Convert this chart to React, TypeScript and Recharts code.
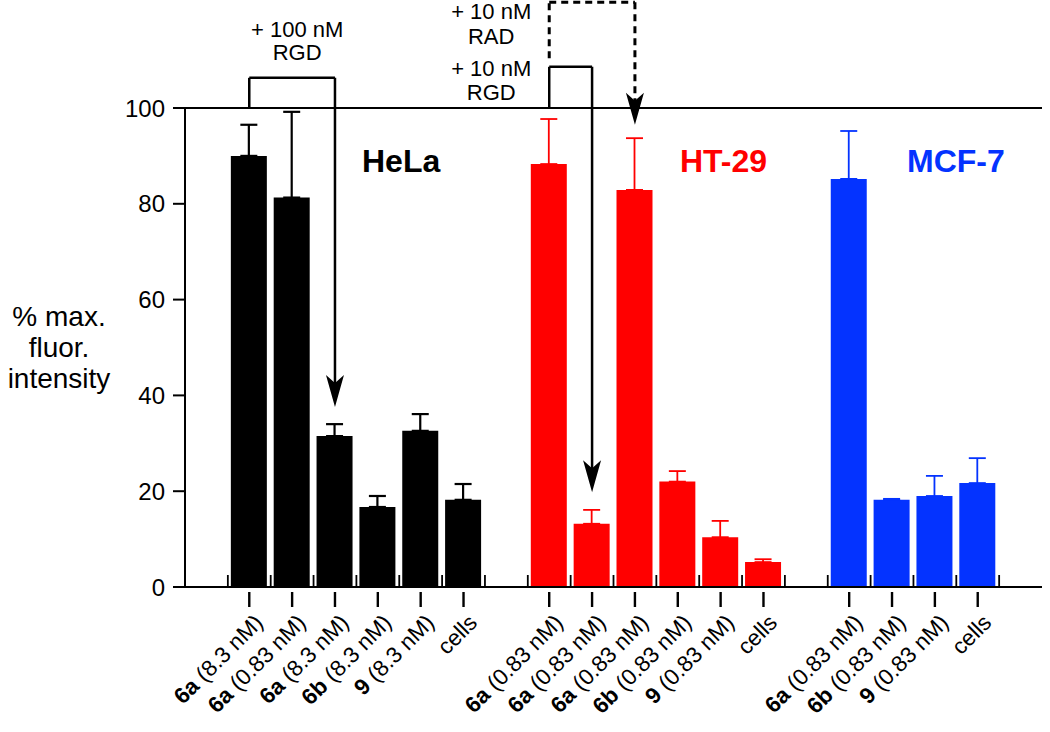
import React from 'react';
import { BarChart, Bar, XAxis, YAxis, Cell, ErrorBar, ReferenceLine, ReferenceDot, Label } from 'recharts';

// one slot per category; s* are the empty spacer slots between cell lines
const categoryIds = ['s0', 'h1', 'h2', 'h3', 'h4', 'h5', 'h6', 's1', 't1', 't2', 't3', 't4', 't5', 't6', 's2', 'm1', 'm2', 'm3', 'm4', 's3'];
const boldParts = ['', '6a', '6a', '6a', '6b', '9', '', '', '6a', '6a', '6a', '6b', '9', '', '', '6a', '6b', '9', '', ''];
const plainParts = [
  '', ' (8.3 nM)', ' (0.83 nM)', ' (8.3 nM)', ' (8.3 nM)', ' (8.3 nM)', 'cells', '',
  ' (0.83 nM)', ' (0.83 nM)', ' (0.83 nM)', ' (0.83 nM)', ' (0.83 nM)', 'cells', '',
  ' (0.83 nM)', ' (0.83 nM)', ' (0.83 nM)', 'cells', '',
];
const cellLines = ['', 'HeLa', 'HeLa', 'HeLa', 'HeLa', 'HeLa', 'HeLa', '', 'HT-29', 'HT-29', 'HT-29', 'HT-29', 'HT-29', 'HT-29', '', 'MCF-7', 'MCF-7', 'MCF-7', 'MCF-7', ''];
const intensity = [null, 90, 81.3, 31.5, 16.7, 32.6, 18.2, null, 88.3, 13.2, 82.9, 22, 10.4, 5.2, null, 85.2, 18.2, 19, 21.7, null];
const errorUp = [null, 6.5, 17.9, 2.5, 2.3, 3.5, 3.3, null, 9.4, 2.9, 10.8, 2.2, 3.4, 0.6, null, 10, 0.2, 4.2, 5.2, null];
const yTicks = [0, 20, 40, 60, 80, 100];

const lineColors: Record<string, string> = { HeLa: '#000000', 'HT-29': '#ff0000', 'MCF-7': '#0433ff' };

const rows = categoryIds.map((id, i) => {
  const line = cellLines[i];
  const err = errorUp[i] == null ? undefined : [0, errorUp[i]];
  return {
    id,
    value: intensity[i],
    errH: line === 'HeLa' ? err : undefined,
    errT: line === 'HT-29' ? err : undefined,
    errM: line === 'MCF-7' ? err : undefined,
  };
});

const FONT = 'Liberation Sans, Arial, Helvetica, sans-serif';
const PLOT_W = 1042 - 185;
const SLOT = PLOT_W / categoryIds.length;

function CategoryTick(props: any) {
  const { x, y, payload } = props;
  const i = categoryIds.indexOf(payload.value);
  const bold = boldParts[i];
  const plain = plainParts[i];
  const hasLabel = bold !== '' || plain !== '';
  return (
    <g>
      <line x1={x - SLOT / 2} x2={x - SLOT / 2} y1={y - 12} y2={y} stroke="#000" strokeWidth={1.8} />
      {hasLabel && <line x1={x} x2={x} y1={y + 5} y2={y + 20} stroke="#000" strokeWidth={2.4} />}
      {hasLabel && (
        <text
          transform={`translate(${x + 15},${y + 37}) rotate(-45)`}
          textAnchor="end"
          fontSize={22.5}
          fontFamily={FONT}
          fill="#000"
        >
          {bold && <tspan fontWeight="bold">{bold}</tspan>}
          {plain}
        </text>
      )}
    </g>
  );
}

const YTitle = () => (
  <text textAnchor="middle" fontSize={28} fontFamily={FONT} fill="#000">
    <tspan x={59} y={326}>% max.</tspan>
    <tspan x={59} y={357}>fluor.</tspan>
    <tspan x={59} y={388}>intensity</tspan>
  </text>
);

const ArrowHead = (p: any) => (
  <path d={`M${p.cx},${p.cy} L${p.cx - 9},${p.cy - 32} L${p.cx},${p.cy - 24} L${p.cx + 9},${p.cy - 32} Z`} fill="#000" />
);

const textShape = (lines: string[], dx: number, gap: number, opts: any = {}) => (p: any) => (
  <text
    textAnchor={opts.anchor || 'middle'}
    fontSize={opts.size || 22}
    fontWeight={opts.weight || 'normal'}
    fontFamily={FONT}
    fill={opts.color || '#000'}
  >
    {lines.map((t, k) => (
      <tspan key={k} x={p.cx + dx} y={p.cy + k * gap}>{t}</tspan>
    ))}
  </text>
);

const bracket = { stroke: '#000', strokeWidth: 2.5, ifOverflow: 'visible' as const };
const dashed = { stroke: '#000', strokeWidth: 3, strokeDasharray: '7 5', ifOverflow: 'visible' as const };

export default function App() {
  return (
    <div style={{ width: 1050, height: 732, background: '#fff' }}>
      <style>{'body{margin:0}'}</style>
      <BarChart width={1050} height={732} data={rows} margin={{ top: 108, right: 8, bottom: 15, left: 115 }}>
        <XAxis
          dataKey="id"
          height={130}
          interval={0}
          tickSize={0}
          tickMargin={0}
          tickLine={false}
          tick={<CategoryTick />}
          axisLine={{ stroke: '#000', strokeWidth: 2 }}
        />
        <YAxis
          width={70}
          domain={[0, 100]}
          ticks={yTicks}
          allowDataOverflow
          tickSize={12}
          tickMargin={8}
          tick={{ fontSize: 24, fontFamily: FONT, fill: '#000' }}
          tickLine={{ stroke: '#000', strokeWidth: 2 }}
          axisLine={{ stroke: '#000', strokeWidth: 2 }}
        >
          <Label content={YTitle} />
        </YAxis>
        <YAxis yAxisId="right" orientation="right" width={0} domain={[0, 100]} tick={false} tickLine={false} axisLine={{ stroke: '#000', strokeWidth: 2 }} />
        <ReferenceLine y={100} stroke="#000" strokeWidth={2} />
        <Bar dataKey="value" barSize={36} isAnimationActive={false}>
          {rows.map((r, i) => (
            <Cell key={r.id} fill={lineColors[cellLines[i]] || '#000'} />
          ))}
          <ErrorBar dataKey="errH" width={8.5} stroke="#000" strokeWidth={2.2} isAnimationActive={false} />
          <ErrorBar dataKey="errT" width={8.5} stroke="#ff0000" strokeWidth={1.8} isAnimationActive={false} />
          <ErrorBar dataKey="errM" width={8.5} stroke="#0433ff" strokeWidth={1.8} isAnimationActive={false} />
        </Bar>

        {/* + 100 nM RGD on HeLa */}
        <ReferenceLine segment={[{ x: 'h1', y: 100 }, { x: 'h1', y: 106.3 }]} {...bracket} />
        <ReferenceLine segment={[{ x: 'h1', y: 106.3 }, { x: 'h3', y: 106.3 }]} {...bracket} />
        <ReferenceLine segment={[{ x: 'h3', y: 106.3 }, { x: 'h3', y: 42 }]} {...bracket} />
        <ReferenceDot x="h3" y={37.6} r={0} ifOverflow="visible" shape={ArrowHead} />

        {/* + 10 nM RGD on HT-29 */}
        <ReferenceLine segment={[{ x: 't1', y: 100 }, { x: 't1', y: 108.6 }]} {...bracket} />
        <ReferenceLine segment={[{ x: 't1', y: 108.6 }, { x: 't2', y: 108.6 }]} {...bracket} />
        <ReferenceLine segment={[{ x: 't2', y: 108.6 }, { x: 't2', y: 24 }]} {...bracket} />
        <ReferenceDot x="t2" y={19.8} r={0} ifOverflow="visible" shape={ArrowHead} />

        {/* + 10 nM RAD on HT-29 */}
        <ReferenceLine segment={[{ x: 't1', y: 110.4 }, { x: 't1', y: 122.1 }]} {...dashed} />
        <ReferenceLine segment={[{ x: 't1', y: 122.1 }, { x: 't3', y: 122.1 }]} {...dashed} />
        <ReferenceLine segment={[{ x: 't3', y: 122.1 }, { x: 't3', y: 101 }]} {...dashed} />
        <ReferenceDot x="t3" y={96.5} r={0} ifOverflow="visible" shape={ArrowHead} />

        <ReferenceDot x="h2" y={114.8} r={0} ifOverflow="visible" shape={textShape(['+ 100 nM', 'RGD'], 5, 23)} />
        <ReferenceDot x="t1" y={118.6} r={0} ifOverflow="visible" shape={textShape(['+ 10 nM', 'RAD'], -58, 25)} />
        <ReferenceDot x="t1" y={106.7} r={0} ifOverflow="visible" shape={textShape(['+ 10 nM', 'RGD'], -58, 24)} />

        <ReferenceDot x="h3" y={86.6} r={0} ifOverflow="visible" shape={textShape(['HeLa'], 27, 0, { anchor: 'start', size: 32, weight: 'bold' })} />
        <ReferenceDot x="t3" y={86.6} r={0} ifOverflow="visible" shape={textShape(['HT-29'], 45, 0, { anchor: 'start', size: 32, weight: 'bold', color: '#ff0000' })} />
        <ReferenceDot x="m2" y={86.6} r={0} ifOverflow="visible" shape={textShape(['MCF-7'], 15, 0, { anchor: 'start', size: 32, weight: 'bold', color: '#0433ff' })} />
      </BarChart>
    </div>
  );
}
